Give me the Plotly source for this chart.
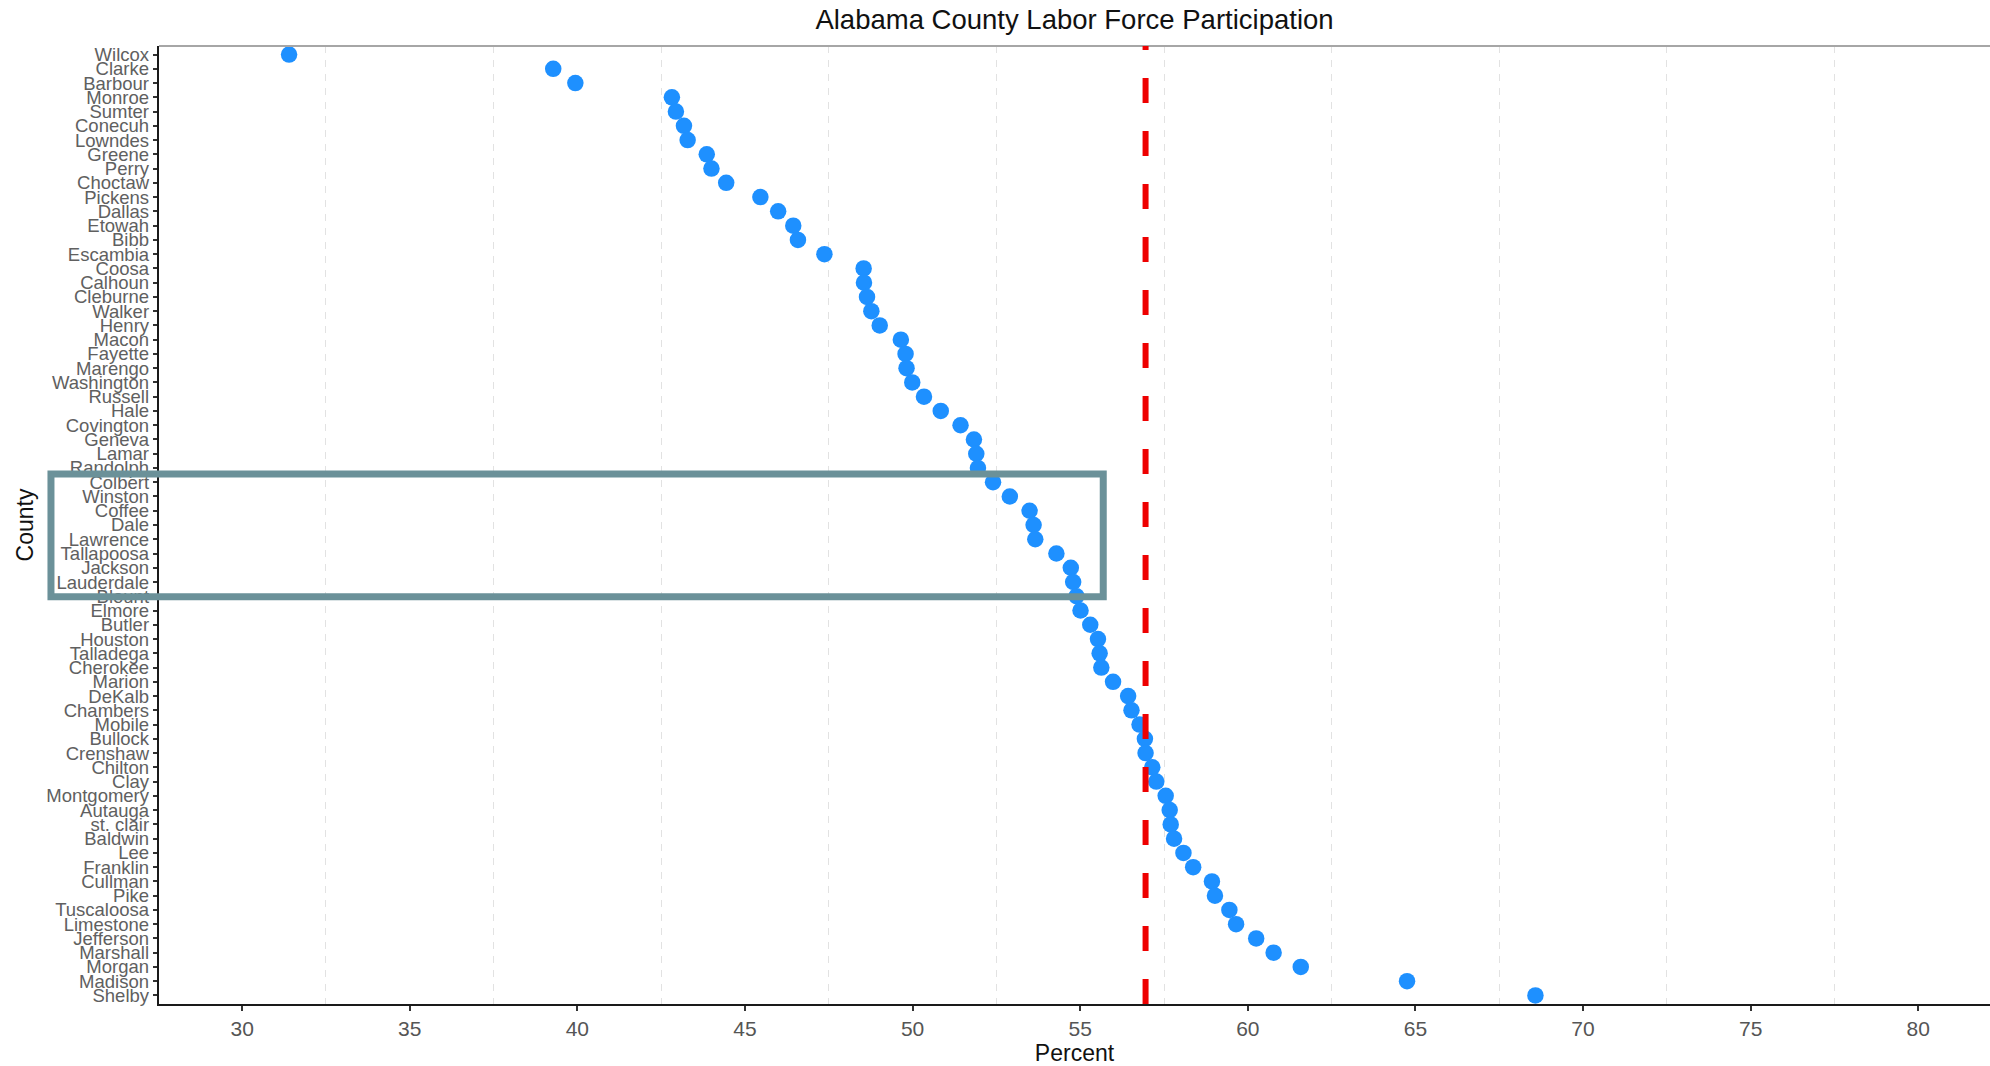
import plotly.graph_objects as go

counties = [
    "Wilcox", "Clarke", "Barbour", "Monroe", "Sumter", "Conecuh", "Lowndes", "Greene",
    "Perry", "Choctaw", "Pickens", "Dallas", "Etowah", "Bibb", "Escambia", "Coosa",
    "Calhoun", "Cleburne", "Walker", "Henry", "Macon", "Fayette", "Marengo", "Washington",
    "Russell", "Hale", "Covington", "Geneva", "Lamar", "Randolph", "Colbert", "Winston",
    "Coffee", "Dale", "Lawrence", "Tallapoosa", "Jackson", "Lauderdale", "Blount", "Elmore",
    "Butler", "Houston", "Talladega", "Cherokee", "Marion", "DeKalb", "Chambers", "Mobile",
    "Bullock", "Crenshaw", "Chilton", "Clay", "Montgomery", "Autauga", "st. clair", "Baldwin",
    "Lee", "Franklin", "Cullman", "Pike", "Tuscaloosa", "Limestone", "Jefferson", "Marshall",
    "Morgan", "Madison", "Shelby",
]

percent = [
    31.40, 39.28, 39.94, 42.82, 42.94, 43.18, 43.29, 43.86,
    44.00, 44.44, 45.46, 45.99, 46.44, 46.58, 47.37, 48.54,
    48.55, 48.64, 48.77, 49.02, 49.65, 49.79, 49.82, 49.99,
    50.34, 50.84, 51.43, 51.83, 51.90, 51.95, 52.40, 52.90,
    53.49, 53.61, 53.66, 54.29, 54.72, 54.79, 54.89, 55.01,
    55.30, 55.53, 55.58, 55.63, 55.98, 56.43, 56.53, 56.77,
    56.93, 56.95, 57.15, 57.27, 57.55, 57.67, 57.70, 57.80,
    58.08, 58.37, 58.93, 59.02, 59.45, 59.65, 60.25, 60.77,
    61.58, 64.75, 68.58,
]

state_average = 56.95

x_ticks = [30, 35, 40, 45, 50, 55, 60, 65, 70, 75, 80]

FONT = "Liberation Sans, Arial, Helvetica, sans-serif"

fig = go.Figure()
fig.add_trace(go.Scatter(
    x=percent, y=counties, mode="markers",
    marker=dict(color="#1E90FF", size=16.5, line=dict(width=0)),
    showlegend=False, hoverinfo="x+y",
))

fig.update_layout(
    width=1990, height=1066,
    margin=dict(l=159, r=0, t=46, b=62),
    paper_bgcolor="white", plot_bgcolor="white",
    font=dict(family=FONT, color="#000000"),
    title=dict(text="Alabama County Labor Force Participation",
               x=0.5, xref="paper", xanchor="center",
               y=1 - 19 / 1066, yref="container", yanchor="middle",
               font=dict(size=27.5, color="#111111", family=FONT)),
    xaxis=dict(
        range=[27.52, 82.14],
        tickmode="array", tickvals=x_ticks, ticktext=[str(v) for v in x_ticks],
        showgrid=False, zeroline=False,
        showline=True, linecolor="#1a1a1a", linewidth=2,
        ticks="outside", ticklen=5, tickcolor="#333333", tickwidth=1.5,
        tickfont=dict(size=21, color="#555555", family=FONT),
        minor=dict(tick0=2.5, dtick=5, showgrid=True, gridcolor="#e2e2e2",
                   gridwidth=1.2, griddash="7px,7px", ticks=""),
        title=dict(text="Percent", font=dict(size=23, color="#111111", family=FONT),
                   standoff=6),
        automargin=False,
    ),
    yaxis=dict(
        type="category",
        categoryorder="array", categoryarray=counties,
        tickmode="array", tickvals=counties, ticktext=counties,
        range=[len(counties) - 1 + 0.6, -0.6],
        showgrid=False, zeroline=False,
        showline=True, linecolor="#1a1a1a", linewidth=1.5,
        ticks="outside", ticklen=4.5, tickcolor="#333333", tickwidth=1.5,
        tickfont=dict(size=18.5, color="#606060", family=FONT),
        title=dict(text="County", font=dict(size=23, color="#111111", family=FONT),
                   standoff=6),
        automargin=False,
    ),
    shapes=[
        # top panel border
        dict(type="line", xref="paper", yref="paper", x0=0, x1=1, y0=1, y1=1,
             line=dict(color="#a6a6a6", width=2), layer="above"),
        # state average reference line
        dict(type="line", xref="x", yref="paper", x0=state_average, x1=state_average,
             y0=0, y1=1, line=dict(color="#ee0000", width=6, dash="25px,28px"),
             layer="above"),
        # highlight box
        dict(type="rect", xref="paper", yref="paper",
             x0=-0.0590, x1=0.5157, y0=0.4252, y1=0.5532,
             line=dict(color="#6b9199", width=7), fillcolor="rgba(0,0,0,0)",
             layer="above"),
    ],
)

fig.write_html("out.html",
               config={"displayModeBar": False},
               post_script="document.body.style.margin='0';document.body.style.overflow='hidden';")
